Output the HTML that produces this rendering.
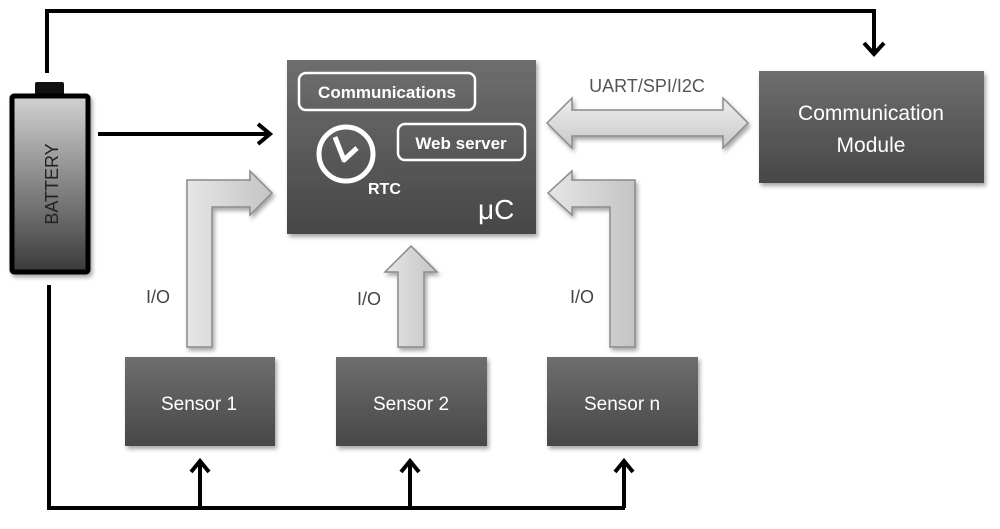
<!DOCTYPE html>
<html><head><meta charset="utf-8"><style>
html,body{margin:0;padding:0;background:#fff;}
svg{display:block;font-family:"Liberation Sans",sans-serif;}
</style></head><body>
<svg width="1000" height="529" viewBox="0 0 1000 529" xmlns="http://www.w3.org/2000/svg">
<defs>
<linearGradient id="box" x1="0" y1="0" x2="0" y2="1"><stop offset="0" stop-color="#6e6e6e"/><stop offset="1" stop-color="#474747"/></linearGradient>
<linearGradient id="bat" x1="0" y1="0" x2="0" y2="1"><stop offset="0" stop-color="#d2d2d2"/><stop offset="1" stop-color="#3a3a3a"/></linearGradient>
<linearGradient id="arr" x1="0" y1="0" x2="1" y2="0"><stop offset="0" stop-color="#e6e6e6"/><stop offset="1" stop-color="#c4c4c4"/></linearGradient>
<linearGradient id="arrv" x1="0" y1="0" x2="0" y2="1"><stop offset="0" stop-color="#eeeeee"/><stop offset="1" stop-color="#c8c8c8"/></linearGradient>
<filter id="sh" x="-10%" y="-10%" width="130%" height="130%"><feDropShadow dx="2" dy="3" stdDeviation="2" flood-color="#000" flood-opacity="0.35"/></filter>
</defs>

<!-- black power lines -->
<g stroke="#000" stroke-width="4" fill="none" stroke-linejoin="miter">
<polyline points="47,73 47,11 874,11 874,52"/>
<polyline points="864,43 874,54 884,43"/>
<line x1="98" y1="134" x2="268" y2="134"/>
<polyline points="258,124 270,134 258,144"/>
<polyline points="49,285 49,508 625,508"/>
<line x1="200" y1="508" x2="200" y2="462"/>
<line x1="410" y1="508" x2="410" y2="462"/>
<line x1="624" y1="508" x2="624" y2="462"/>
<polyline points="191,472 200,461 209,472"/>
<polyline points="401,472 410,461 419,472"/>
<polyline points="615,472 624,461 633,472"/>
</g>

<!-- battery -->
<rect x="35" y="82" width="29" height="15" fill="#111" rx="2"/>
<rect x="12" y="96" width="76" height="176" fill="url(#bat)" stroke="#000" stroke-width="5" rx="2" filter="url(#sh)"/>
<text transform="translate(58,184) rotate(-90)" text-anchor="middle" font-size="18" fill="#222">BATTERY</text>

<!-- μC box -->
<rect x="287" y="60" width="249" height="174" fill="url(#box)" filter="url(#sh)"/>
<rect x="299" y="73" width="176" height="37" rx="7" fill="none" stroke="#fff" stroke-width="2.5"/>
<text x="387" y="98" text-anchor="middle" font-size="17" font-weight="bold" fill="#fff">Communications</text>
<rect x="398" y="124" width="127" height="36" rx="7" fill="none" stroke="#fff" stroke-width="2.5"/>
<text x="461" y="149" text-anchor="middle" font-size="17" font-weight="bold" fill="#fff">Web server</text>
<circle cx="346" cy="154" r="27" fill="none" stroke="#fff" stroke-width="5"/>
<polyline points="335,137 344,160 357,148" fill="none" stroke="#fff" stroke-width="5" stroke-linejoin="round"/>
<text x="368" y="194" font-size="16" font-weight="bold" fill="#fff">RTC</text>
<text x="478" y="219" font-size="28" fill="#fff">μC</text>

<!-- communication module -->
<rect x="759" y="71" width="225" height="112" fill="url(#box)" filter="url(#sh)"/>
<text x="871" y="120" text-anchor="middle" font-size="21" fill="#fff">Communication</text>
<text x="871" y="152" text-anchor="middle" font-size="21" fill="#fff">Module</text>

<!-- sensors -->
<rect x="125" y="357" width="150" height="89" fill="url(#box)" filter="url(#sh)"/>
<text x="199" y="410" text-anchor="middle" font-size="19" fill="#fff">Sensor 1</text>
<rect x="336" y="357" width="151" height="89" fill="url(#box)" filter="url(#sh)"/>
<text x="411" y="410" text-anchor="middle" font-size="19" fill="#fff">Sensor 2</text>
<rect x="547" y="357" width="151" height="89" fill="url(#box)" filter="url(#sh)"/>
<text x="622" y="410" text-anchor="middle" font-size="19" fill="#fff">Sensor n</text>

<!-- block arrows -->
<g stroke="#8a8a8a" stroke-width="1.5" filter="url(#sh)">
<path d="M547,123 L572,98 L572,110 L723,110 L723,98 L748,123 L723,148 L723,136 L572,136 L572,148 Z" fill="url(#arrv)"/>
<path d="M187,347 L187,180 L250,180 L250,171 L272,193 L250,215 L250,207 L212,207 L212,347 Z" fill="url(#arr)"/>
<path d="M635,347 L635,180 L572,180 L572,171 L548,193 L572,215 L572,207 L610,207 L610,347 Z" fill="url(#arr)"/>
<path d="M398,347 L398,272 L385,272 L411,246 L437,272 L424,272 L424,347 Z" fill="url(#arr)"/>
</g>

<!-- labels -->
<text x="647" y="92" text-anchor="middle" font-size="18" fill="#555">UART/SPI/I2C</text>
<text x="158" y="303" text-anchor="middle" font-size="18" fill="#444">I/O</text>
<text x="369" y="305" text-anchor="middle" font-size="18" fill="#444">I/O</text>
<text x="582" y="303" text-anchor="middle" font-size="18" fill="#444">I/O</text>
</svg>
</body></html>
